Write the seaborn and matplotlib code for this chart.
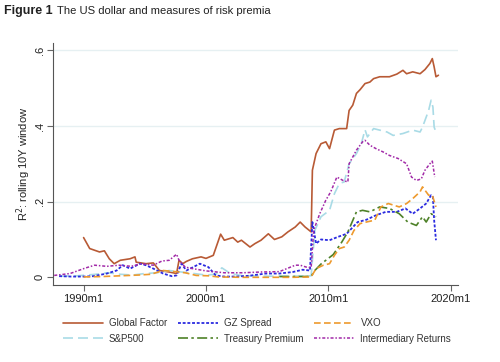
import numpy as np
import pandas as pd
import matplotlib
matplotlib.use("Agg")
import matplotlib.pyplot as plt
import seaborn as sns

# --- data (x = fractional year, y = R^2) ---
global_x = [1990.0, 1990.5, 1991.3, 1991.7, 1992.1, 1992.5, 1993.0, 1993.8, 1994.2, 1994.3,
            1995.1, 1995.7, 1996.2, 1997.0, 1997.6, 1997.8, 1998.1, 1998.4, 1998.9, 1999.6,
            2000.0, 2000.6, 2001.2, 2001.5, 2002.2, 2002.6, 2002.9, 2003.6, 2004.0, 2004.5,
            2005.1, 2005.6, 2006.2, 2006.7, 2007.3, 2007.7, 2008.1, 2008.6, 2008.7, 2009.0,
            2009.4, 2009.8, 2010.1, 2010.5, 2010.9, 2011.5, 2011.7, 2012.0, 2012.3, 2012.6,
            2013.0, 2013.4, 2013.7, 2014.2, 2015.0, 2015.6, 2016.1, 2016.4, 2016.9, 2017.5,
            2017.9, 2018.3, 2018.5, 2018.65, 2018.8, 2019.0]
global_y = [0.105, 0.076, 0.067, 0.070, 0.049, 0.036, 0.045, 0.049, 0.054, 0.040,
            0.036, 0.038, 0.018, 0.014, 0.010, 0.045, 0.036, 0.042, 0.049, 0.054,
            0.050, 0.058, 0.114, 0.098, 0.105, 0.093, 0.098, 0.080, 0.089, 0.098,
            0.115, 0.100, 0.107, 0.120, 0.133, 0.146, 0.133, 0.120, 0.283, 0.327,
            0.353, 0.358, 0.340, 0.389, 0.393, 0.393, 0.441, 0.455, 0.486, 0.496,
            0.512, 0.516, 0.525, 0.530, 0.530, 0.537, 0.547, 0.538, 0.543, 0.538,
            0.549, 0.565, 0.578, 0.556, 0.530, 0.534]

gz_x = [1988.0, 1989.0, 1990.0, 1990.8, 1991.9, 1992.7, 1993.2, 1993.8, 1994.6, 1995.1,
        1995.7, 1996.5, 1997.2, 1997.6, 1998.0, 1998.4, 1998.9, 1999.5, 2000.2, 2000.8,
        2001.5, 2002.5, 2003.5, 2004.9, 2006.0, 2007.1, 2007.9, 2008.5, 2008.7, 2009.0,
        2009.4, 2010.1, 2010.8, 2011.5, 2011.9, 2012.4, 2013.1, 2013.9, 2014.7, 2015.6,
        2016.3, 2016.9, 2017.5, 2018.0, 2018.4, 2018.55, 2018.65, 2018.8]
gz_y = [0.003, 0.002, 0.002, 0.003, 0.010, 0.018, 0.032, 0.023, 0.036, 0.032,
        0.023, 0.010, 0.003, 0.005, 0.036, 0.018, 0.026, 0.036, 0.027, 0.005,
        0.002, 0.002, 0.004, 0.010, 0.010, 0.014, 0.020, 0.018, 0.146, 0.089,
        0.100, 0.098, 0.107, 0.115, 0.129, 0.146, 0.152, 0.164, 0.173, 0.173,
        0.182, 0.168, 0.182, 0.195, 0.217, 0.212, 0.151, 0.098]

vxo_x = [1990.0, 1991.5, 1993.0, 1994.5, 1995.5, 1996.5, 1997.5, 1998.3, 1999.2, 2000.2,
         2001.0, 2003.0, 2005.0, 2007.0, 2008.6, 2009.0, 2009.6, 2010.1, 2010.5, 2010.9,
         2011.3, 2011.7, 2012.1, 2012.6, 2013.1, 2013.8, 2014.3, 2014.9, 2015.4, 2015.8,
         2016.4, 2016.9, 2017.5, 2017.7, 2018.2, 2018.5, 2018.8]
vxo_y = [0.001, 0.002, 0.004, 0.006, 0.008, 0.018, 0.015, 0.012, 0.005, 0.004,
         0.001, 0.0, 0.0, 0.0, 0.001, 0.023, 0.032, 0.036, 0.058, 0.076,
         0.080, 0.098, 0.124, 0.142, 0.146, 0.151, 0.186, 0.195, 0.190, 0.186,
         0.195, 0.208, 0.226, 0.239, 0.217, 0.217, 0.186]

sp_x = [1988.0, 1989.5, 1991.0, 1992.0, 1993.0, 1994.0, 1995.0, 1996.0, 1997.0, 1998.0,
        1999.0, 2000.0, 2000.8, 2001.3, 2002.0, 2003.0, 2005.0, 2007.0, 2008.6, 2008.9,
        2009.4, 2010.1, 2010.5, 2010.9, 2011.3, 2011.7, 2012.3, 2012.7, 2013.0, 2013.2,
        2013.7, 2014.2, 2014.8, 2015.3, 2016.1, 2016.9, 2017.5, 2017.7, 2018.2, 2018.4,
        2018.55, 2018.65, 2018.8]
sp_y = [0.003, 0.004, 0.008, 0.012, 0.008, 0.006, 0.010, 0.012, 0.018, 0.014,
        0.010, 0.006, 0.008, 0.025, 0.010, 0.004, 0.003, 0.003, 0.004, 0.124,
        0.160, 0.177, 0.221, 0.248, 0.252, 0.300, 0.327, 0.353, 0.390, 0.371,
        0.393, 0.389, 0.384, 0.375, 0.380, 0.389, 0.384, 0.397, 0.441, 0.468,
        0.450, 0.397, 0.384]

tp_x = [2006.0, 2007.0, 2008.0, 2008.6, 2008.9, 2009.4, 2009.8, 2010.4, 2011.1, 2011.6,
        2012.3, 2012.8, 2013.4, 2014.2, 2015.0, 2015.8, 2016.5, 2017.2, 2017.7, 2018.0,
        2018.4, 2018.8]
tp_y = [0.002, 0.002, 0.002, 0.003, 0.018, 0.035, 0.045, 0.060, 0.093, 0.120,
        0.173, 0.177, 0.173, 0.186, 0.182, 0.168, 0.146, 0.137, 0.160, 0.146,
        0.168, 0.160]

ir_x = [1987.6, 1988.9, 1990.1, 1990.9, 1991.9, 1992.9, 1993.9, 1994.7, 1995.7, 1996.4,
        1997.0, 1997.6, 1997.8, 1998.3, 1998.9, 2000.0, 2001.5, 2003.0, 2004.5, 2006.0,
        2007.3, 2007.7, 2008.3, 2008.6, 2008.8, 2009.3, 2009.8, 2010.2, 2010.7, 2011.2,
        2011.6, 2011.7, 2012.3, 2012.8, 2013.0, 2013.4, 2013.9, 2014.5, 2015.0, 2015.7,
        2016.4, 2016.8, 2017.2, 2017.6, 2017.9, 2018.3, 2018.5, 2018.7]
ir_y = [0.005, 0.010, 0.024, 0.032, 0.029, 0.032, 0.029, 0.036, 0.032, 0.043,
        0.045, 0.061, 0.045, 0.027, 0.023, 0.017, 0.012, 0.012, 0.014, 0.015,
        0.032, 0.032, 0.026, 0.026, 0.124, 0.168, 0.204, 0.226, 0.265, 0.256,
        0.252, 0.300, 0.336, 0.358, 0.362, 0.349, 0.340, 0.331, 0.322, 0.314,
        0.300, 0.265, 0.256, 0.260, 0.283, 0.300, 0.307, 0.265]

tick_years = [1990, 2000, 2010, 2020]
tick_labels = ["1990m1", "2000m1", "2010m1", "2020m1"]

sns.set_style("white")
plt.rcParams['font.family'] = ['Liberation Sans', 'DejaVu Sans']

fig = plt.figure(figsize=(5, 3.62), dpi=100)
ax = fig.add_axes([0.106, 0.212, 0.81, 0.669])

series = [
    ("Global Factor", global_x, global_y, "#B85A35", (None, None), 1.2),
    ("S&P500", sp_x, sp_y, "#A9DBE6", (6, 3), 1.2),
    ("GZ Spread", gz_x, gz_y, "#2B2BE0", (1.6, 1.0), 1.3),
    ("Treasury Premium", tp_x, tp_y, "#4E8128", (6, 2, 1.5, 2), 1.2),
    ("VXO", vxo_x, vxo_y, "#EE9A2E", (4, 2), 1.2),
    ("Intermediary Returns", ir_x, ir_y, "#A22AA8", (2, 1.2, 1, 1.2), 1.1),
]

for name, xs, ys, col, dash, lw in series:
    d = pd.DataFrame({"x": xs, "y": ys})
    sns.lineplot(data=d, x="x", y="y", ax=ax, color=col, lw=lw, label=name,
                 legend=False, estimator=None, sort=False)
    if dash[0] is not None:
        ax.lines[-1].set_dashes(dash)

ax.set_xlim(1987.5, 2020.6)
ax.set_ylim(-0.021, 0.619)
ax.set_xticks(tick_years)
ax.set_xticklabels(tick_labels, fontsize=8, color="#222222")
ax.set_yticks([0, 0.2, 0.4, 0.6])
ax.set_yticklabels(["0", ".2", ".4", ".6"], fontsize=8, rotation=90, va="center",
                   color="#222222")
ax.tick_params(axis="both", direction="out", length=4, width=0.8, color="#666666",
               bottom=True, left=True, pad=2)
for y in [0.2, 0.4, 0.6]:
    ax.axhline(y, color="#E6F0F2", lw=1.0, zorder=0)
sns.despine(ax=ax)
ax.spines["left"].set_color("#555555")
ax.spines["bottom"].set_color("#555555")
ax.spines["left"].set_linewidth(0.8)
ax.spines["bottom"].set_linewidth(0.8)
ax.set_xlabel("")
ax.set_ylabel("R$^2$: rolling 10Y window", fontsize=8, color="#222222", labelpad=1)

handles = ax.lines[:6]
labels = [s[0] for s in series]
fig.legend(handles, labels, loc="center", bbox_to_anchor=(0.514, 0.086), ncol=3,
           frameon=False, fontsize=7, handlelength=4.1, handletextpad=0.65,
           columnspacing=1.1, labelspacing=0.6, labelcolor="#333333")

fig.text(0.008, 0.962, "Figure 1", fontsize=9, weight="bold", color="#222222")
fig.text(0.114, 0.962, "The US dollar and measures of risk premia", fontsize=8.1,
         color="#222222")

fig.savefig("out.png", dpi=100)
